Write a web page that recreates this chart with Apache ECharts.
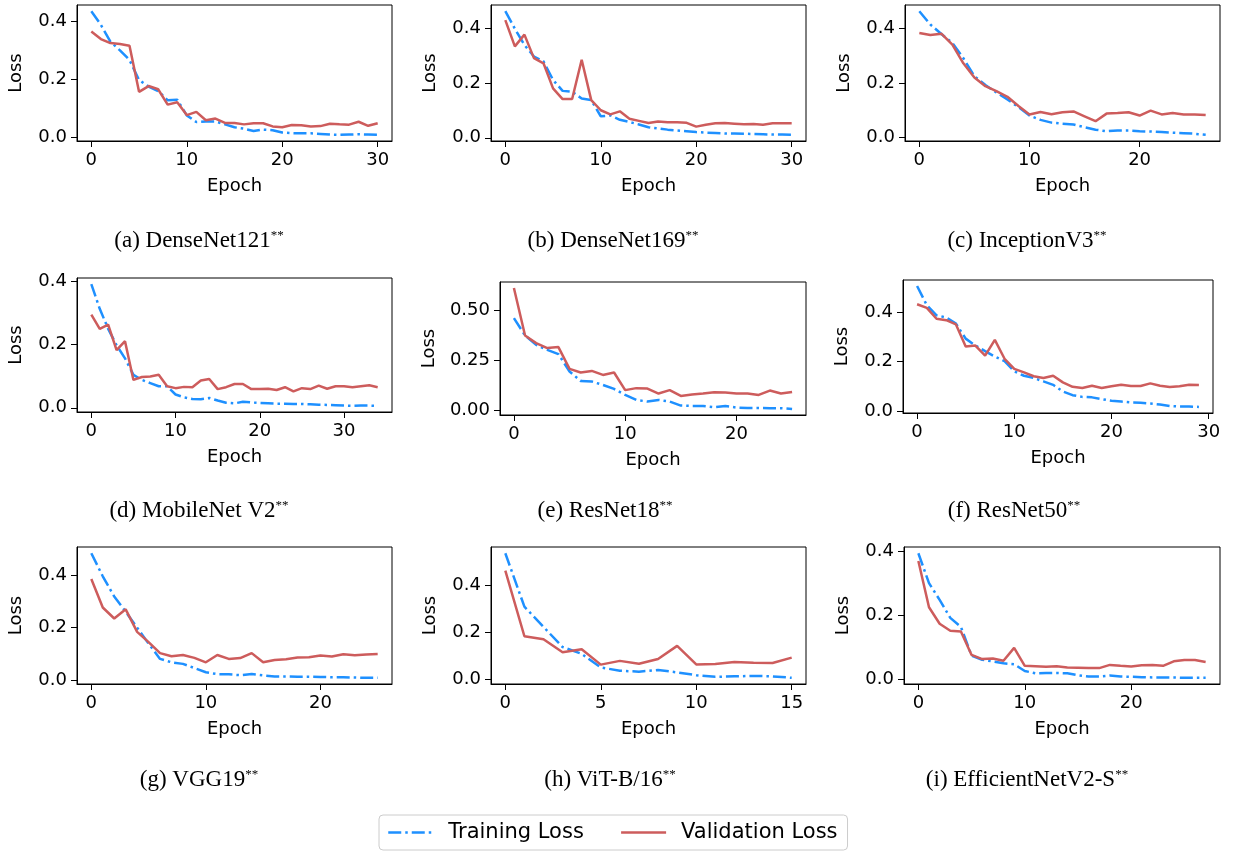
<!DOCTYPE html>
<html>
<head>
<meta charset="utf-8">
<title>Loss curves</title>
<script src="https://cdn.jsdelivr.net/npm/echarts@6/dist/echarts.min.js"></script>
<style>
	html, body { margin: 0; padding: 0; background: #fff; }
	#main { width: 1234px; height: 854px; }
</style>
</head>
<body>
<div id="main"></div>
<script>
// values, one list per curve
var densenet121Train = [0.435, 0.388, 0.33, 0.30, 0.267, 0.198, 0.175, 0.16, 0.128, 0.13, 0.076, 0.053, 0.055, 0.055, 0.045, 0.035, 0.03, 0.022, 0.027, 0.025, 0.017, 0.015, 0.014, 0.014, 0.012, 0.01, 0.009, 0.01, 0.011, 0.01, 0.009];
var densenet121Val = [0.365, 0.339, 0.325, 0.322, 0.316, 0.157, 0.177, 0.166, 0.113, 0.121, 0.077, 0.088, 0.059, 0.065, 0.05, 0.05, 0.045, 0.049, 0.049, 0.038, 0.035, 0.043, 0.042, 0.038, 0.039, 0.047, 0.045, 0.044, 0.054, 0.04, 0.049];

var densenet169Train = [0.464, 0.40, 0.34, 0.298, 0.28, 0.212, 0.172, 0.169, 0.144, 0.138, 0.079, 0.082, 0.066, 0.058, 0.049, 0.039, 0.034, 0.03, 0.027, 0.024, 0.021, 0.019, 0.018, 0.016, 0.016, 0.015, 0.014, 0.013, 0.012, 0.012, 0.011];
var densenet169Val = [0.431, 0.335, 0.378, 0.292, 0.273, 0.181, 0.142, 0.142, 0.286, 0.138, 0.101, 0.086, 0.097, 0.07, 0.062, 0.054, 0.06, 0.057, 0.057, 0.055, 0.041, 0.048, 0.053, 0.054, 0.052, 0.05, 0.051, 0.048, 0.053, 0.053, 0.053];

var inceptionTrain = [0.464, 0.415, 0.38, 0.347, 0.291, 0.225, 0.192, 0.165, 0.139, 0.111, 0.08, 0.064, 0.054, 0.05, 0.047, 0.037, 0.028, 0.022, 0.025, 0.025, 0.022, 0.021, 0.019, 0.017, 0.015, 0.013, 0.009];
var inceptionVal = [0.384, 0.376, 0.381, 0.341, 0.272, 0.22, 0.188, 0.17, 0.149, 0.115, 0.084, 0.093, 0.085, 0.092, 0.095, 0.077, 0.059, 0.087, 0.089, 0.092, 0.08, 0.098, 0.084, 0.089, 0.084, 0.084, 0.082];

var mobilenetTrain = [0.39, 0.312, 0.249, 0.197, 0.156, 0.104, 0.088, 0.078, 0.068, 0.068, 0.042, 0.033, 0.028, 0.027, 0.031, 0.023, 0.016, 0.014, 0.019, 0.017, 0.015, 0.014, 0.013, 0.013, 0.012, 0.012, 0.011, 0.01, 0.009, 0.008, 0.007, 0.006, 0.007, 0.007, 0.006];
var mobilenetVal = [0.294, 0.249, 0.262, 0.182, 0.21, 0.088, 0.097, 0.099, 0.104, 0.068, 0.062, 0.066, 0.065, 0.086, 0.091, 0.059, 0.065, 0.075, 0.075, 0.059, 0.059, 0.06, 0.056, 0.065, 0.052, 0.062, 0.059, 0.07, 0.06, 0.068, 0.068, 0.065, 0.068, 0.071, 0.065];

var resnet18Train = [0.462, 0.375, 0.328, 0.303, 0.282, 0.195, 0.148, 0.145, 0.128, 0.108, 0.078, 0.053, 0.045, 0.053, 0.045, 0.025, 0.023, 0.023, 0.017, 0.023, 0.015, 0.013, 0.013, 0.012, 0.012, 0.008];
var resnet18Val = [0.612, 0.375, 0.337, 0.312, 0.317, 0.208, 0.19, 0.198, 0.178, 0.19, 0.102, 0.112, 0.11, 0.085, 0.102, 0.073, 0.08, 0.085, 0.092, 0.09, 0.085, 0.085, 0.078, 0.1, 0.085, 0.093];

var resnet50Train = [0.508, 0.43, 0.389, 0.38, 0.355, 0.294, 0.266, 0.243, 0.221, 0.202, 0.161, 0.143, 0.134, 0.12, 0.106, 0.079, 0.064, 0.057, 0.055, 0.048, 0.041, 0.038, 0.034, 0.033, 0.03, 0.026, 0.02, 0.018, 0.018, 0.016];
var resnet50Val = [0.434, 0.419, 0.375, 0.369, 0.352, 0.262, 0.266, 0.225, 0.289, 0.212, 0.171, 0.157, 0.141, 0.134, 0.143, 0.116, 0.098, 0.093, 0.102, 0.093, 0.1, 0.106, 0.101, 0.101, 0.112, 0.102, 0.097, 0.1, 0.106, 0.105];

var vgg19Train = [0.484, 0.396, 0.319, 0.261, 0.2, 0.139, 0.081, 0.068, 0.062, 0.046, 0.03, 0.023, 0.022, 0.019, 0.023, 0.018, 0.014, 0.014, 0.013, 0.013, 0.012, 0.011, 0.011, 0.01, 0.009, 0.009];
var vgg19Val = [0.386, 0.277, 0.235, 0.27, 0.184, 0.145, 0.103, 0.091, 0.096, 0.085, 0.068, 0.096, 0.081, 0.084, 0.103, 0.068, 0.077, 0.08, 0.086, 0.087, 0.094, 0.09, 0.099, 0.095, 0.098, 0.1];

var vitTrain = [0.537, 0.309, 0.223, 0.137, 0.108, 0.05, 0.036, 0.032, 0.039, 0.029, 0.017, 0.01, 0.012, 0.014, 0.012, 0.006];
var vitVal = [0.463, 0.183, 0.17, 0.115, 0.128, 0.062, 0.078, 0.066, 0.086, 0.142, 0.063, 0.065, 0.073, 0.07, 0.069, 0.092];

var efficientTrain = [0.393, 0.30, 0.248, 0.192, 0.164, 0.075, 0.062, 0.057, 0.051, 0.048, 0.027, 0.02, 0.021, 0.021, 0.02, 0.014, 0.01, 0.01, 0.013, 0.01, 0.009, 0.008, 0.007, 0.007, 0.007, 0.006, 0.006, 0.006];
var efficientVal = [0.369, 0.225, 0.174, 0.152, 0.15, 0.077, 0.064, 0.066, 0.059, 0.099, 0.043, 0.042, 0.04, 0.042, 0.038, 0.037, 0.036, 0.036, 0.046, 0.043, 0.041, 0.045, 0.046, 0.043, 0.057, 0.061, 0.061, 0.055];

// tick labels
var xTicks30 = [0, 10, 20, 30];
var xTicks20 = [0, 10, 20];
var xTicks15 = [0, 5, 10, 15];
var yTicks = [0, 0.2, 0.4];
var yTicksWide = [0, 0.25, 0.5];

var captions = ['(a) DenseNet121', '(b) DenseNet169', '(c) InceptionV3',
	'(d) MobileNet V2', '(e) ResNet18', '(f) ResNet50',
	'(g) VGG19', '(h) ViT-B/16', '(i) EfficientNetV2-S'];

var panels = [
	{ train: densenet121Train, val: densenet121Val, xt: xTicks30, yt: yTicks, dec: 1, box: [77, 5, 315, 136], cap: [199, 241] },
	{ train: densenet169Train, val: densenet169Val, xt: xTicks30, yt: yTicks, dec: 1, box: [491, 5, 315, 136], cap: [613, 241] },
	{ train: inceptionTrain, val: inceptionVal, xt: xTicks20, yt: yTicks, dec: 1, box: [905, 5, 315, 136], cap: [1027, 241] },
	{ train: mobilenetTrain, val: mobilenetVal, xt: xTicks30, yt: yTicks, dec: 1, box: [77, 278, 315, 134], cap: [199, 511] },
	{ train: resnet18Train, val: resnet18Val, xt: xTicks20, yt: yTicksWide, dec: 2, box: [500, 282, 306, 133], cap: [605, 511] },
	{ train: resnet50Train, val: resnet50Val, xt: xTicks30, yt: yTicks, dec: 1, box: [903, 280, 310, 133], cap: [1014, 511] },
	{ train: vgg19Train, val: vgg19Val, xt: xTicks20, yt: yTicks, dec: 1, box: [77, 547, 315, 137], cap: [199, 780] },
	{ train: vitTrain, val: vitVal, xt: xTicks15, yt: yTicks, dec: 1, box: [491, 547, 315, 137], cap: [610, 780] },
	{ train: efficientTrain, val: efficientVal, xt: xTicks20, yt: yTicks, dec: 1, box: [904, 547, 316, 137], cap: [1027, 780] }
];

var FONT = 'DejaVu Sans';
var BLUE = '#1e90ff';
var RED = '#cd5c5c';
var NOFILL = 'rgba(0,0,0,0)';

function toPoints(arr) {
	return arr.map(function (v, k) { return [k, v]; });
}

function buildOption() {
	var grids = [], xAxes = [], yAxes = [], series = [], graphics = [];
	panels.forEach(function (p, i) {
		var n = p.train.length - 1;
		var all = p.train.concat(p.val);
		var lo = Math.min.apply(null, all), hi = Math.max.apply(null, all);
		var pad = (hi - lo) * 0.05;
		grids.push({
			left: p.box[0], top: p.box[1], width: p.box[2], height: p.box[3],
			show: true, borderColor: '#000', borderWidth: 1, backgroundColor: 'transparent'
		});
		xAxes.push({
			type: 'value', gridIndex: i, min: -0.05 * n, max: n * 1.05,
			name: 'Epoch', nameLocation: 'middle', nameGap: 36,
			nameTextStyle: { fontSize: 18, fontFamily: FONT, color: '#000' },
			axisLine: { show: true, onZero: false, lineStyle: { color: '#000', width: 1 } },
			axisTick: { show: true, length: 6, customValues: p.xt, lineStyle: { color: '#000' } },
			axisLabel: { customValues: p.xt, fontSize: 18, fontFamily: FONT, color: '#000', margin: 10 },
			splitLine: { show: false }
		});
		yAxes.push({
			type: 'value', gridIndex: i, min: lo - pad, max: hi + pad,
			name: 'Loss', nameLocation: 'middle', nameGap: p.dec == 2 ? 62 : 52,
			nameTextStyle: { fontSize: 18, fontFamily: FONT, color: '#000' },
			axisLine: { show: true, onZero: false, lineStyle: { color: '#000', width: 1 } },
			axisTick: { show: true, length: 6, customValues: p.yt, lineStyle: { color: '#000' } },
			axisLabel: {
				customValues: p.yt, fontSize: 18, fontFamily: FONT, color: '#000', margin: 10,
				formatter: (function (d) { return function (v) { return v.toFixed(d); }; })(p.dec)
			},
			splitLine: { show: false }
		});
		// symbol kept (hidden) so the legend icon is just the line
		series.push({
			name: 'Training Loss', type: 'line', xAxisIndex: i, yAxisIndex: i,
			data: toPoints(p.train), symbol: 'circle', showSymbol: false, silent: true,
			lineStyle: { color: BLUE, width: 2.5, type: [13, 4, 2.5, 4] },
			itemStyle: { color: NOFILL, borderColor: NOFILL }
		});
		series.push({
			name: 'Validation Loss', type: 'line', xAxisIndex: i, yAxisIndex: i,
			data: toPoints(p.val), symbol: 'circle', showSymbol: false, silent: true,
			lineStyle: { color: RED, width: 2.5 },
			itemStyle: { color: NOFILL, borderColor: NOFILL }
		});
		graphics.push({
			type: 'text', x: p.cap[0], y: p.cap[1],
			style: {
				text: '{n|' + captions[i] + '}{s|**}',
				align: 'center', verticalAlign: 'middle',
				rich: {
					n: { fontSize: 23, fontFamily: 'Liberation Serif', fill: '#000' },
					s: { fontSize: 13, fontFamily: 'Liberation Serif', fill: '#000', verticalAlign: 'top' }
				}
			}
		});
	});
	return {
		animation: false,
		backgroundColor: '#fff',
		grid: grids,
		xAxis: xAxes,
		yAxis: yAxes,
		series: series,
		graphic: graphics,
		legend: {
			left: 379, top: 815,
			padding: [7, 10, 7, 8],
			itemWidth: 45, itemHeight: 20, itemGap: 36,
			borderColor: '#cccccc', borderWidth: 1, borderRadius: 4,
			lineStyle: { width: 2.5 },
			textStyle: { fontSize: 21, fontFamily: FONT, color: '#000', padding: [0, 0, 0, 10] },
			data: ['Training Loss', 'Validation Loss']
		}
	};
}

var myChart = echarts.init(document.getElementById('main'));
myChart.setOption(buildOption());
</script>
</body>
</html>
